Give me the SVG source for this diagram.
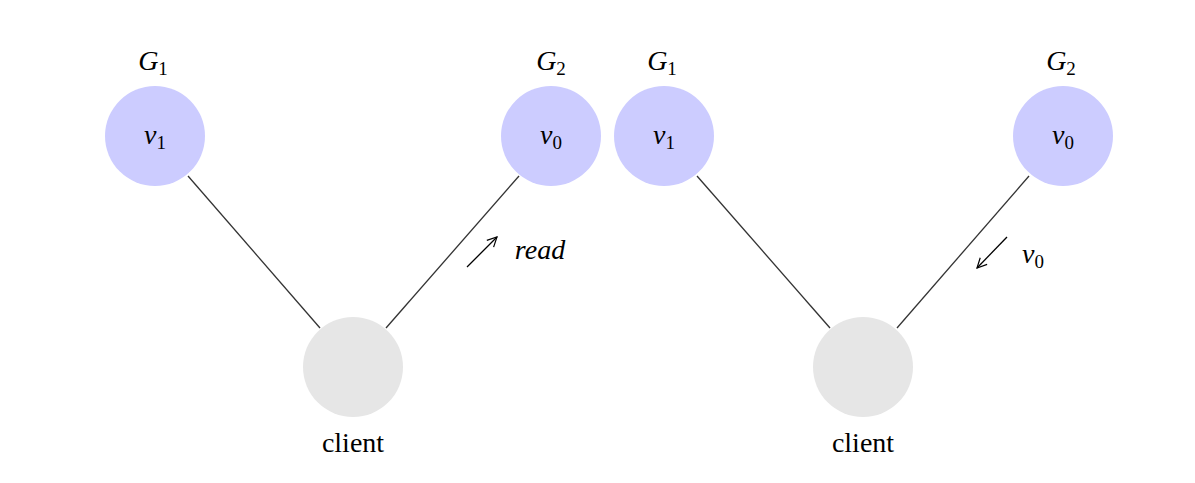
<svg xmlns="http://www.w3.org/2000/svg" width="1195" height="483" viewBox="0 0 1195 483">
<style>
.g{fill:#ccccff}.c{fill:#e6e6e6}
text{font-family:"Liberation Serif",serif;font-size:28px;fill:#000;text-anchor:middle}
.i{font-style:italic}
.e{stroke:#333;stroke-width:1.3;fill:none}
.a{stroke:#000;stroke-width:1.3;fill:none;marker-end:url(#h)}
</style>
<defs><marker id="h" viewBox="0 0 10 10" refX="9" refY="5" markerWidth="12" markerHeight="12" orient="auto" markerUnits="userSpaceOnUse"><path d="M1,1 L9,5 L1,9" fill="none" stroke="#000" stroke-width="1"/></marker></defs>
<rect width="1195" height="483" fill="#fff"/>
<g id="connectors">
<line class="e" x1="188" y1="176" x2="320" y2="328"/>
<line class="e" x1="386" y1="328" x2="519" y2="176"/>
<line class="e" x1="697" y1="176" x2="830" y2="328"/>
<line class="e" x1="897" y1="328" x2="1029" y2="176"/>
<line class="a" x1="467" y1="267" x2="497" y2="237"/>
<text class="i" x="540" y="259">read</text>
<line class="a" x1="1007" y1="237" x2="977" y2="268"/>
<text class="i" x="1033" y="263">v<tspan font-style="normal" font-size="19" dy="5">0</tspan></text>
</g>
<g id="l-v1"><circle class="g" cx="155" cy="136" r="50"/><text class="i" x="155" y="144">v<tspan font-style="normal" font-size="19" dy="5">1</tspan></text><text class="i" x="153" y="70">G<tspan font-style="normal" font-size="19" dy="5">1</tspan></text></g>
<g id="l-v0"><circle class="g" cx="551" cy="136" r="50"/><text class="i" x="551" y="144">v<tspan font-style="normal" font-size="19" dy="5">0</tspan></text><text class="i" x="551" y="70">G<tspan font-style="normal" font-size="19" dy="5">2</tspan></text></g>
<g id="l-client"><circle class="c" cx="353" cy="367" r="50"/><text x="353" y="452">client</text></g>
<g id="r-v1"><circle class="g" cx="664" cy="136" r="50"/><text class="i" x="664" y="144">v<tspan font-style="normal" font-size="19" dy="5">1</tspan></text><text class="i" x="662" y="70">G<tspan font-style="normal" font-size="19" dy="5">1</tspan></text></g>
<g id="r-v0"><circle class="g" cx="1063" cy="136" r="50"/><text class="i" x="1063" y="144">v<tspan font-style="normal" font-size="19" dy="5">0</tspan></text><text class="i" x="1061" y="70">G<tspan font-style="normal" font-size="19" dy="5">2</tspan></text></g>
<g id="r-client"><circle class="c" cx="863" cy="367" r="50"/><text x="863" y="452">client</text></g>
</svg>
